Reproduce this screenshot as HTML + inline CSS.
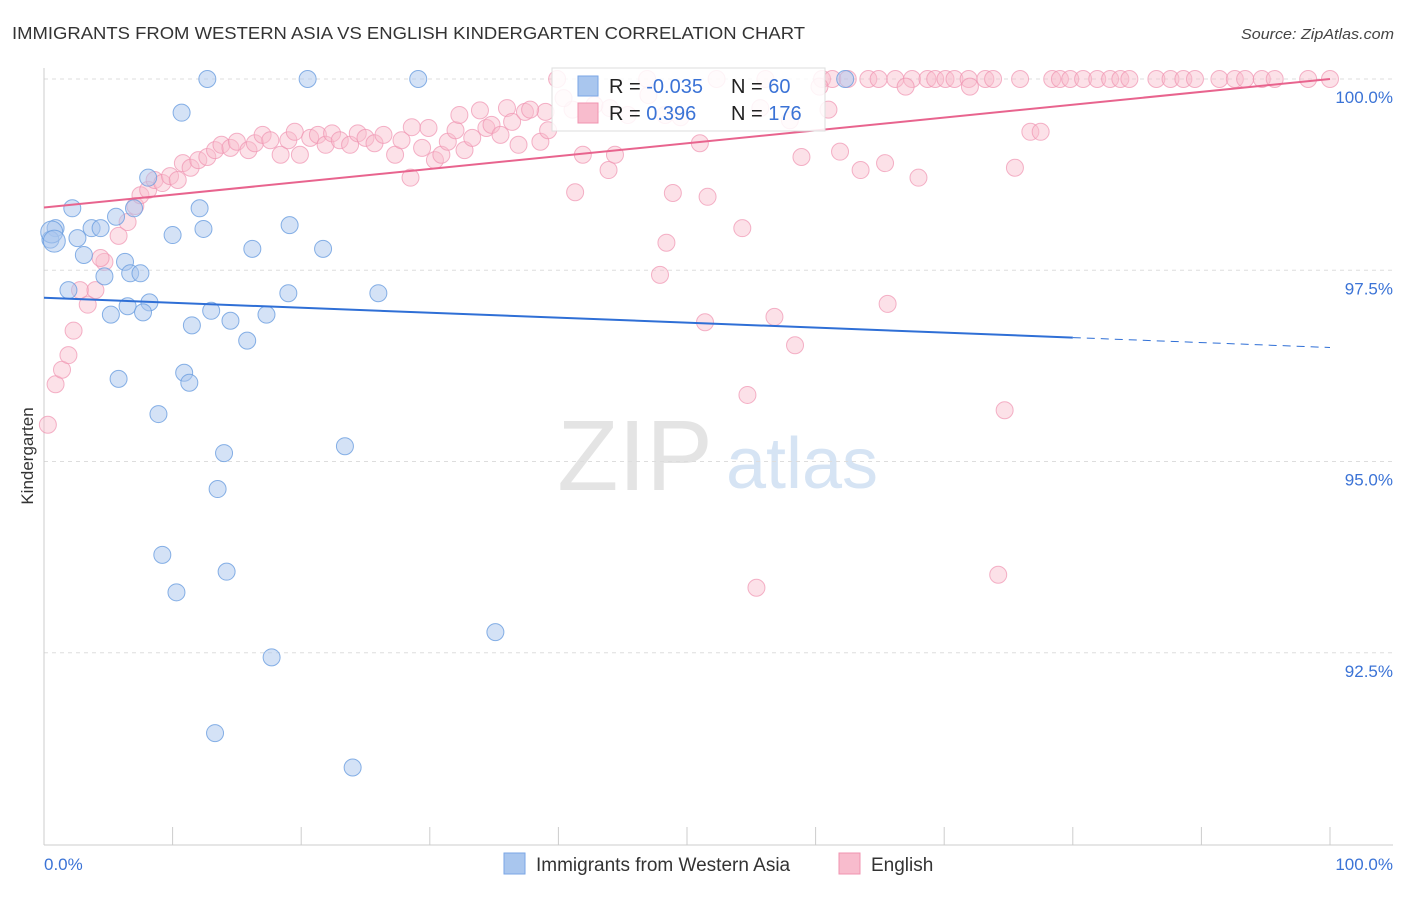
<!DOCTYPE html>
<html><head><meta charset="utf-8"><style>
body{margin:0;background:#fff;font-family:"Liberation Sans",sans-serif;}
svg text{font-family:"Liberation Sans",sans-serif;}
</style></head><body>
<svg id="chart" width="1406" height="892" xmlns="http://www.w3.org/2000/svg">
<text x="12" y="39" font-size="17.5" fill="#333" textLength="793" lengthAdjust="spacingAndGlyphs">IMMIGRANTS FROM WESTERN ASIA VS ENGLISH KINDERGARTEN CORRELATION CHART</text>
<text x="1241" y="39" font-size="15" fill="#444" font-style="italic" textLength="153" lengthAdjust="spacingAndGlyphs">Source: ZipAtlas.com</text>
<text transform="translate(33,456) rotate(-90)" font-size="17" fill="#333" text-anchor="middle">Kindergarten</text>
<g>
<text x="635" y="490" font-size="100" fill="#e4e4e4" text-anchor="middle" font-family="Liberation Serif,serif">ZIP</text>
<text x="802" y="488" font-size="72" fill="#d6e4f4" text-anchor="middle">atlas</text>
</g>
<g id="grid"></g><g id="axes"></g><g id="pts"></g><g id="lines"></g>
<g>
<rect x="552" y="68" width="273" height="63" fill="#fff" fill-opacity="0.85" stroke="#ddd"/>
<rect x="578" y="76" width="20" height="20" fill="#a9c6ee" stroke="#7aa6e6"/>
<rect x="578" y="103" width="20" height="20" fill="#f8bccd" stroke="#f093b0"/>
<text x="609" y="93" font-size="20" fill="#222">R = <tspan fill="#3b73d6">-0.035</tspan></text>
<text x="731" y="93" font-size="20" fill="#222">N = <tspan fill="#3b73d6"> 60</tspan></text>
<text x="609" y="120" font-size="20" fill="#222">R = <tspan fill="#3b73d6">  0.396</tspan></text>
<text x="731" y="120" font-size="20" fill="#222">N = <tspan fill="#3b73d6">176</tspan></text>
</g>
<g>
<rect x="504" y="853" width="21" height="21" fill="#a9c6ee" stroke="#7aa6e6"/>
<text x="536" y="871" font-size="19" fill="#333">Immigrants from Western Asia</text>
<rect x="839" y="853" width="21" height="21" fill="#f8bccd" stroke="#f093b0"/>
<text x="871" y="871" font-size="19" fill="#333">English</text>
</g>
</svg>
<script>
const yTicks=[100,97.5,95,92.5];
const yTickLabels=["100.0%","97.5%","95.0%","92.5%"];
const xTickVals=[0,10,20,30,40,50,60,70,80,90,100];
const blueX=[12.7,20.5,29.1,62.3,10.7,8.1,2.2,12.1,5.6,7.0,0.9,0.5,2.6,3.7,4.4,10.0,12.4,19.1,16.2,21.7,3.1,6.3,4.7,6.7,7.5,1.9,19.0,26.0,6.5,8.2,7.7,5.2,13.0,14.5,11.5,17.3,15.8,5.8,10.9,11.3,8.9,23.4,14.0,13.5,9.2,14.2,10.3,35.1,17.7,13.3,24.0,0.6,0.8];
const blueY=[100,100,100,100,99.56,98.71,98.31,98.31,98.2,98.31,98.05,97.9,97.92,98.05,98.05,97.96,98.04,98.09,97.78,97.78,97.7,97.61,97.42,97.46,97.46,97.24,97.2,97.2,97.03,97.08,96.95,96.92,96.97,96.84,96.78,96.92,96.58,96.08,96.16,96.03,95.62,95.2,95.11,94.64,93.78,93.56,93.29,92.77,92.44,91.45,91.0,98.0,97.88];
const pinkX=[39.9,46.9,52.3,56.1,60.5,61.3,62.5,64.1,64.9,66.2,67.5,68.7,69.3,70.1,70.8,71.9,73.2,73.8,75.9,78.4,79.0,79.8,80.8,81.9,82.9,83.7,84.4,86.5,87.6,88.6,89.5,91.4,92.6,93.4,94.7,95.7,98.3,100,
67.0,72.0,47.0,60.3,41.1,39.0,44.0,45.4,48.3,49.5,55.7,58.0,61.0,42.8,40.4,
0.3,0.9,1.4,1.9,2.3,3.4,2.8,4.0,4.7,4.4,5.8,6.5,7.1,7.5,8.1,8.6,9.2,9.8,10.4,10.8,11.4,12.0,12.7,13.3,13.8,14.5,15.0,15.9,16.4,17.0,17.6,18.4,19.0,19.5,19.9,20.7,21.3,21.9,22.4,23.0,23.8,24.4,25.0,25.7,26.4,27.3,27.8,28.5,28.6,29.4,29.9,30.4,30.9,31.4,32.0,32.3,32.7,33.3,33.9,34.4,34.8,35.5,36.0,36.4,36.9,37.4,37.8,38.6,39.2,41.3,41.9,43.9,44.4,47.9,48.4,48.9,51.0,51.6,51.4,54.3,54.7,55.4,56.8,58.4,58.9,61.9,63.5,65.4,65.6,68.0,74.7,74.2,75.5,76.7,77.5];
const pinkY=[100,100,100,100,100,100,100,100,100,100,100,100,100,100,100,100,100,100,100,100,100,100,100,100,100,100,100,100,100,100,100,100,100,100,100,100,100,100,
99.9,99.9,99.79,99.9,99.6,99.57,99.62,99.53,99.53,99.5,99.62,99.46,99.6,99.66,99.75,
95.48,96.01,96.2,96.39,96.71,97.05,97.24,97.24,97.61,97.66,97.95,98.13,98.34,98.48,98.55,98.68,98.64,98.73,98.68,98.9,98.84,98.94,98.98,99.07,99.14,99.1,99.18,99.07,99.16,99.27,99.2,99.01,99.2,99.31,99.01,99.23,99.27,99.14,99.29,99.2,99.14,99.29,99.23,99.16,99.27,99.01,99.2,98.71,99.37,99.1,99.36,98.94,99.01,99.18,99.33,99.53,99.07,99.23,99.59,99.36,99.4,99.27,99.62,99.44,99.14,99.57,99.6,99.18,99.33,98.52,99.01,98.81,99.01,97.44,97.86,98.51,99.16,98.46,96.82,98.05,95.87,93.35,96.89,96.52,98.98,99.05,98.81,98.9,97.06,98.71,95.67,93.52,98.84,99.31,99.31];
const blueTrend=[97.14,96.62,96.49]; // at x=0, 80, 100
const pinkTrend=[98.32,100.0]; // at x=0, 100
const NS="http://www.w3.org/2000/svg";
const X=v=>44+v*12.86, Y=v=>79+(100-v)*76.5;
function mk(tag,attrs,parent){const e=document.createElementNS(NS,tag);for(const k in attrs)e.setAttribute(k,attrs[k]);document.getElementById(parent).appendChild(e);return e;}
yTicks.forEach((t,i)=>{
 const g=mk('line',{x1:44,x2:1393,y1:Y(t),y2:Y(t),stroke:'#ddd','stroke-dasharray':'4,4'},'grid');
 
 
 const l=mk('text',{x:1393,y:Y(t)+24,'font-size':17,fill:'#3b73d6','text-anchor':'end'},'axes');
 l.textContent=yTickLabels[i];
 
 
});
const ax=mk('line',{x1:44,x2:1393,y1:845,y2:845,stroke:'#ccc'},'axes');


const ay=mk('line',{x1:44,x2:44,y1:68,y2:845,stroke:'#ccc'},'axes');


xTickVals.forEach(t=>{const k=mk('line',{x1:X(t),x2:X(t),y1:827,y2:845,stroke:'#ccc'},'axes');
 
 });
[[0,'0.0%','start',44],[100,'100.0%','end',1393]].forEach(d=>{const t=mk('text',{x:d[3],y:870,'font-size':17,fill:'#3b73d6','text-anchor':d[2]},'axes');t.textContent=d[1];
 
 });
pinkX.forEach((x,i)=>{const c=mk('circle',{cx:X(x),cy:Y(pinkY[i]),r:8.5,fill:'#f8bccd','fill-opacity':0.45,stroke:'#f093b0','stroke-opacity':0.7},'pts');
 
 });
blueX.forEach((x,i)=>{const c=mk('circle',{cx:X(x),cy:Y(blueY[i]),r:(i>=51?11:8.5),fill:'#a9c6ee','fill-opacity':0.5,stroke:'#6a9ee0','stroke-opacity':0.8},'pts');
 
 });
const bl=mk('line',{x1:X(0),y1:Y(blueTrend[0]),x2:X(80),y2:Y(blueTrend[1]),stroke:'#2f6fd6','stroke-width':2},'lines');


const bd=mk('line',{x1:X(80),y1:Y(blueTrend[1]),x2:X(100),y2:Y(blueTrend[2]),stroke:'#2f6fd6','stroke-width':1,'stroke-dasharray':'8,6'},'lines');


const pl=mk('line',{x1:X(0),y1:Y(pinkTrend[0]),x2:X(100),y2:Y(pinkTrend[1]),stroke:'#e8648e','stroke-width':2},'lines');


</script>
</body></html>
